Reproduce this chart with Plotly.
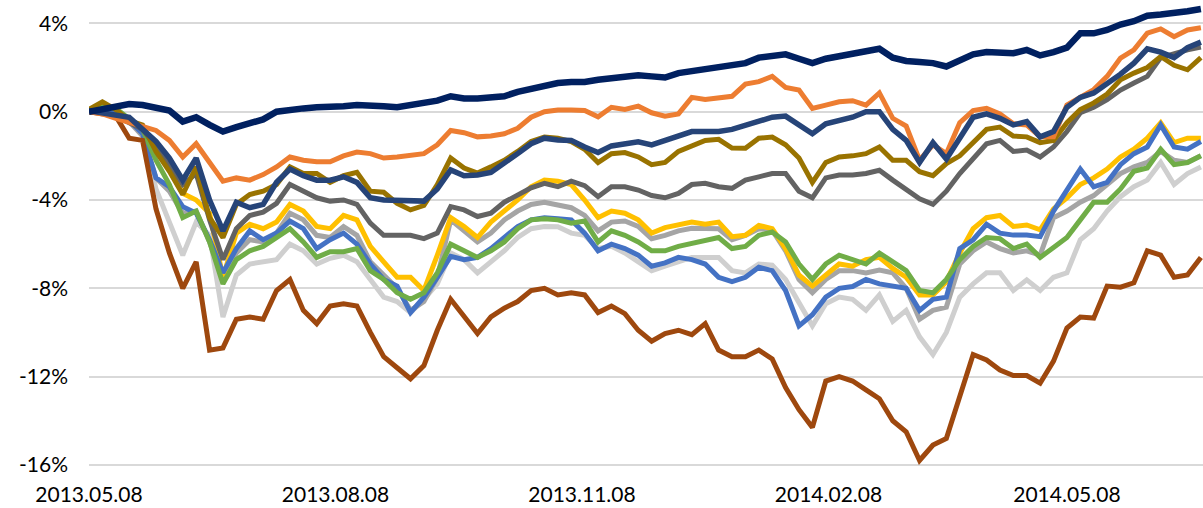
import pandas as pd
import plotly.graph_objects as go

# Sampling dates (every 5 calendar days from the first observation)
dates = pd.date_range("2013-05-08", periods=84, freq="5D")

tick_dates = ["2013-05-08", "2013-08-08", "2013-11-08", "2014-02-08", "2014-05-08"]
tick_text = ["2013.05.08", "2013.08.08", "2013.11.08", "2014.02.08", "2014.05.08"]
y_ticks = [-16, -12, -8, -4, 0, 4]
y_text = ["-16%", "-12%", "-8%", "-4%", "0%", "4%"]

navy = [0.0, 0.1, 0.25, 0.35, 0.3, 0.2, 0.05, -0.45, -0.25, -0.6, -0.9, -0.7, -0.55, -0.35, 0.0, 0.1,
        0.15, 0.2, 0.2, 0.25, 0.3, 0.3, 0.25, 0.2, 0.3, 0.45, 0.5, 0.7, 0.6, 0.6, 0.65, 0.7,
        0.9, 1.05, 1.15, 1.3, 1.35, 1.35, 1.45, 1.5, 1.6, 1.65, 1.6, 1.55, 1.75, 1.85, 1.95, 2.05,
        2.1, 2.2, 2.45, 2.55, 2.6, 2.4, 2.2, 2.4, 2.5, 2.65, 2.75, 2.85, 2.45, 2.3, 2.25, 2.2,
        2.05, 2.35, 2.6, 2.7, 2.65, 2.65, 2.8, 2.55, 2.7, 2.9, 3.55, 3.55, 3.7, 3.95, 4.1, 4.35,
        4.4, 4.45, 4.55, 4.65]

orange = [0.0, -0.1, -0.3, -0.5, -0.7, -0.85, -1.3, -2.05, -1.45, -2.3, -3.15, -3.0, -3.1, -2.85, -2.5, -2.05,
          -2.2, -2.27, -2.27, -2.0, -1.83, -1.9, -2.1, -2.05, -2.0, -1.9, -1.5, -0.85, -0.95, -1.14, -1.1, -1.0,
          -0.75, -0.25, 0.0, 0.08, 0.08, 0.05, -0.23, 0.2, 0.1, 0.25, -0.05, -0.2, -0.1, 0.65, 0.55, 0.65,
          0.7, 1.25, 1.36, 1.6, 1.1, 0.98, 0.15, 0.3, 0.45, 0.5, 0.3, 0.85, -0.3, -0.65, -2.2, -1.5,
          -1.9, -0.5, 0.05, 0.15, -0.1, -0.55, -0.6, -1.14, -1.14, 0.3, 0.65, 1.0, 1.6, 2.43, 2.8, 3.56,
          3.75, 3.4, 3.7, 3.8]

dark_blue = [0.05, -0.05, -0.1, -0.25, -0.8, -1.35, -2.1, -3.1, -2.1, -4.0, -5.4, -4.1, -4.35, -4.2, -3.2, -2.6,
             -2.9, -3.1, -3.1, -2.95, -3.2, -3.9, -4.0, -4.0, -4.05, -4.05, -3.5, -2.64, -2.9, -2.87, -2.75, -2.35,
             -1.9, -1.45, -1.2, -1.28, -1.3, -1.6, -1.85, -1.55, -1.43, -1.36, -1.5, -1.3, -1.1, -0.9, -0.9, -0.9,
             -0.8, -0.6, -0.4, -0.25, -0.2, -0.6, -1.0, -0.55, -0.4, -0.25, 0.0, 0.0, -0.8, -1.3, -2.3, -1.4,
             -2.15, -1.2, -0.25, -0.1, -0.3, -0.6, -0.45, -1.14, -0.9, 0.2, 0.65, 0.85, 1.25, 1.7, 2.2, 2.85,
             2.7, 2.45, 2.9, 3.15]

olive = [0.1, 0.45, 0.1, -0.4, -0.6, -1.8, -2.7, -3.75, -2.5, -4.8, -5.7, -4.2, -3.75, -3.6, -3.3, -2.5,
         -2.8, -2.8, -3.2, -2.9, -2.75, -3.6, -3.65, -4.15, -4.45, -4.25, -3.3, -2.1, -2.55, -2.78, -2.5, -2.2,
         -1.8, -1.35, -1.15, -1.2, -1.35, -1.7, -2.3, -1.9, -1.85, -2.05, -2.4, -2.3, -1.8, -1.55, -1.3, -1.25,
         -1.65, -1.66, -1.2, -1.15, -1.5, -2.1, -3.2, -2.3, -2.05, -2.0, -1.9, -1.6, -2.2, -2.2, -2.72, -2.9,
         -2.35, -2.0, -1.4, -0.8, -0.7, -1.1, -1.14, -1.4, -1.3, -0.5, 0.1, 0.4, 0.8, 1.45, 1.75, 2.0,
         2.5, 2.1, 1.9, 2.45]

dark_gray = [0.0, -0.05, -0.2, -0.5, -0.8, -1.6, -2.4, -3.3, -2.8, -4.9, -6.7, -5.3, -4.7, -4.55, -4.15, -3.3,
             -3.6, -3.9, -4.05, -4.0, -4.2, -5.05, -5.6, -5.6, -5.6, -5.75, -5.5, -4.3, -4.45, -4.75, -4.6, -4.1,
             -3.8, -3.45, -3.25, -3.4, -3.15, -3.35, -3.85, -3.4, -3.4, -3.55, -3.8, -3.9, -3.7, -3.3, -3.24, -3.4,
             -3.47, -3.1, -2.95, -2.8, -2.8, -3.6, -3.9, -3.0, -2.87, -2.87, -2.8, -2.65, -3.1, -3.5, -3.95, -4.2,
             -3.6, -2.8, -2.15, -1.45, -1.3, -1.8, -1.74, -2.05, -1.6, -0.9, -0.05, 0.2, 0.55, 0.98, 1.3, 1.6,
             2.45, 2.65, 2.8, 2.93]

yellow = [0.0, 0.1, 0.05, -0.4, -0.9, -1.6, -2.6, -3.7, -4.0, -4.6, -7.5, -5.5, -5.1, -5.3, -5.0, -4.2,
          -4.5, -5.2, -5.3, -4.7, -4.9, -6.1, -6.8, -7.5, -7.5, -8.1, -6.5, -4.8, -5.2, -5.7, -5.0, -4.5,
          -4.0, -3.4, -3.1, -3.15, -3.3, -4.0, -4.8, -4.5, -4.6, -4.9, -5.5, -5.25, -5.1, -5.0, -5.1, -5.0,
          -5.66, -5.6, -5.15, -5.3, -6.2, -7.4, -7.9, -7.4, -6.9, -7.0, -6.7, -6.6, -7.1, -7.5, -8.3, -8.3,
          -7.7, -6.4, -5.3, -4.8, -4.7, -5.2, -5.13, -5.35, -4.4, -3.9, -3.3, -3.0, -2.6, -2.05, -1.7, -1.2,
          -0.5, -1.4, -1.2, -1.2]

blue = [0.05, 0.1, 0.0, -0.4, -1.0, -3.0, -3.4, -4.3, -4.6, -5.8, -7.3, -6.2, -5.4, -5.8, -5.5, -4.95,
        -5.3, -6.2, -5.8, -5.5, -6.0, -6.9, -7.6, -7.9, -9.1, -8.4, -7.5, -6.55, -6.7, -6.6, -6.2, -5.7,
        -5.2, -4.9, -4.8, -4.85, -4.9, -5.5, -6.3, -6.0, -6.2, -6.5, -7.0, -6.85, -6.6, -6.7, -6.9, -7.5,
        -7.7, -7.5, -7.05, -7.2, -8.1, -9.7, -9.2, -8.4, -8.0, -7.92, -7.6, -7.8, -7.9, -8.0, -9.0, -8.5,
        -8.4, -6.2, -5.8, -5.1, -5.5, -5.59, -5.59, -5.66, -4.5, -3.6, -2.6, -3.4, -3.2, -2.4, -1.9, -1.6,
        -0.6, -1.6, -1.7, -1.35]

green = [0.05, 0.25, 0.15, -0.3, -0.8, -2.2, -3.3, -4.8, -4.5, -5.9, -7.8, -6.7, -6.3, -6.1, -5.7, -5.3,
         -5.9, -6.6, -6.34, -6.34, -6.2, -7.2, -7.6, -8.2, -8.5, -8.2, -7.3, -6.0, -6.3, -6.6, -6.3, -5.9,
         -5.3, -4.9, -4.85, -4.9, -5.05, -4.95, -5.9, -5.4, -5.6, -5.9, -6.3, -6.3, -6.1, -5.95, -5.85, -5.7,
         -6.2, -6.1, -5.6, -5.45, -5.9, -6.9, -7.6, -6.9, -6.5, -6.7, -6.9, -6.4, -6.8, -7.2, -8.1, -8.2,
         -7.6, -6.7, -6.1, -5.7, -5.75, -6.2, -6.0, -6.6, -6.15, -5.7, -4.9, -4.1, -4.1, -3.5, -2.7, -2.55,
         -1.7, -2.4, -2.3, -2.0]

mid_gray = [0.0, 0.1, 0.0, -0.45, -1.1, -3.0, -3.6, -4.6, -4.5, -5.9, -7.6, -6.4, -5.8, -5.9, -5.5, -4.6,
            -4.9, -5.6, -5.7, -5.2, -5.6, -6.8, -7.4, -8.0, -9.0, -8.6, -7.5, -4.9, -5.4, -5.9, -5.5, -4.9,
            -4.5, -4.2, -4.1, -4.25, -4.35, -4.7, -5.4, -5.0, -4.95, -5.2, -5.75, -5.6, -5.4, -5.28, -5.28, -5.3,
            -5.8, -5.6, -5.3, -5.36, -6.3, -7.6, -8.2, -7.6, -7.2, -7.2, -7.3, -7.17, -7.3, -8.0, -9.4, -9.0,
            -8.85, -6.9, -6.3, -5.9, -6.2, -6.4, -6.3, -6.5, -4.8, -4.5, -4.1, -3.8, -3.3, -2.8, -2.5, -2.3,
            -1.8, -2.2, -2.3, -2.0]

light_gray = [0.0, 0.05, -0.1, -0.5, -0.8, -3.5, -5.0, -6.5, -5.0, -5.6, -9.3, -7.4, -6.9, -6.8, -6.7, -6.0,
              -6.3, -6.9, -6.64, -6.5, -6.8, -7.6, -8.4, -8.6, -9.1, -8.5, -7.8, -6.4, -6.7, -7.3, -6.8, -6.3,
              -5.7, -5.3, -5.2, -5.21, -5.5, -5.6, -6.2, -6.1, -6.4, -6.8, -7.2, -7.0, -6.8, -6.6, -6.6, -6.6,
              -7.2, -7.3, -6.9, -6.95, -7.6, -8.7, -9.7, -8.7, -8.4, -8.5, -9.0, -8.3, -9.5, -9.0, -10.2, -11.0,
              -10.0, -8.4, -7.8, -7.3, -7.3, -8.1, -7.62, -8.1, -7.5, -7.3, -5.8, -5.3, -4.5, -3.85, -3.4, -3.1,
              -2.3, -3.3, -2.8, -2.5]

brown = [0.0, -0.1, -0.2, -1.2, -1.3, -4.4, -6.4, -8.0, -6.8, -10.8, -10.7, -9.4, -9.3, -9.4, -8.1, -7.6,
         -9.0, -9.6, -8.8, -8.7, -8.8, -10.0, -11.1, -11.6, -12.1, -11.5, -9.9, -8.5, -9.3, -10.05, -9.3, -8.9,
         -8.6, -8.1, -8.0, -8.3, -8.2, -8.3, -9.1, -8.8, -9.15, -9.9, -10.4, -10.05, -9.9, -10.1, -9.6, -10.8,
         -11.1, -11.1, -10.8, -11.2, -12.5, -13.5, -14.3, -12.2, -12.0, -12.2, -12.6, -13.0, -14.0, -14.5, -15.8, -15.1,
         -14.8, -12.9, -11.0, -11.25, -11.7, -11.95, -11.95, -12.3, -11.3, -9.8, -9.3, -9.35, -7.9, -7.95, -7.75, -6.3,
         -6.5, -7.5, -7.4, -6.6]

# drawing order: bottom -> top
series = [
    ("Light gray", light_gray, "#CFCFCF", 5),
    ("Gray", mid_gray, "#A5A5A5", 5),
    ("Yellow", yellow, "#FFC000", 5),
    ("Blue", blue, "#4472C4", 5),
    ("Green", green, "#70AD47", 5),
    ("Brown", brown, "#9E480E", 5),
    ("Dark gray", dark_gray, "#636363", 5),
    ("Olive", olive, "#997300", 5),
    ("Orange", orange, "#ED7D31", 5),
    ("Dark blue", dark_blue, "#264478", 5.5),
    ("Navy", navy, "#002060", 6.5),
]

fig = go.Figure()
for name, vals, color, w in series:
    fig.add_trace(go.Scatter(
        x=dates, y=vals, mode="lines", name=name,
        line=dict(color=color, width=w),
        hoverinfo="skip",
    ))

fig.update_layout(
    width=1203, height=508,
    margin=dict(l=89, r=0, t=0, b=42),
    paper_bgcolor="white", plot_bgcolor="white",
    showlegend=False,
    font=dict(family="Lato, 'Open Sans', sans-serif", size=21, color="#000000"),
)
fig.update_xaxes(
    type="date",
    range=["2013-05-08", "2014-06-27 19:00"],
    tickvals=tick_dates, ticktext=tick_text,
    showgrid=False, zeroline=False, showline=False, ticks="",
    ticklabelstandoff=14,
)
fig.update_yaxes(
    range=[-16.05, 5.06],
    tickvals=y_ticks, ticktext=y_text,
    showgrid=True, gridcolor="#D9D9D9", gridwidth=1.5,
    zeroline=False, showline=False, ticks="",
    ticklabelstandoff=20,
)

fig.write_html(
    "out.html",
    config={"displayModeBar": False},
    post_script="document.body.style.margin='0';document.body.style.padding='0';document.body.style.overflow='hidden';",
)
